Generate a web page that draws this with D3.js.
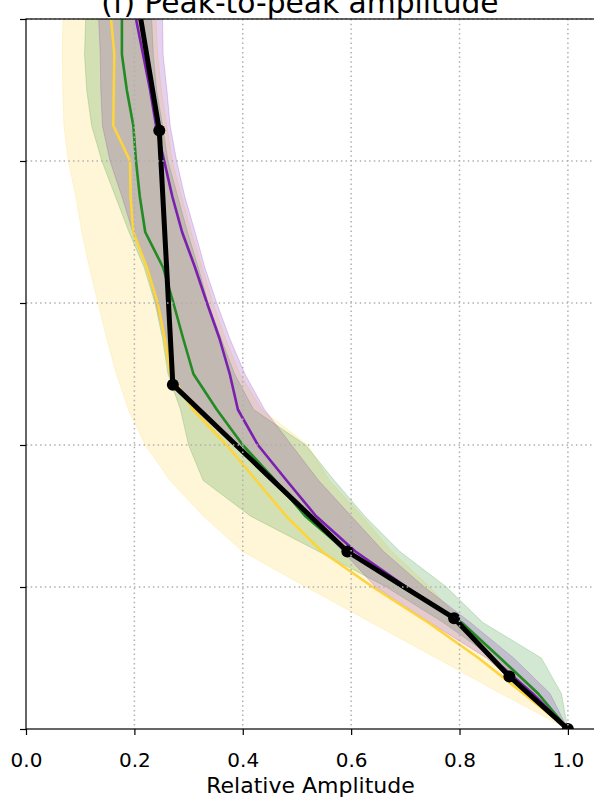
<!DOCTYPE html>
<html>
<head>
<meta charset="utf-8">
<script src="https://cdn.jsdelivr.net/npm/d3@7"></script>
<style>
  body { margin: 0; background: #fff; }
  svg { display: block; font-family: "DejaVu Sans", sans-serif; }
  .grid line { stroke: #b0b0b0; stroke-width: 1.5; stroke-dasharray: 1.5,3.2; }
</style>
</head>
<body>
<svg id="canvas" width="594" height="802"></svg>
<script>
// levels, bottom to top
const levels = [0, 5, 10, 15, 20, 25, 30, 35, 40, 45, 50, 55, 60, 65, 70, 75, 80, 85, 90, 95, 100];

const goldMean = [1.0, 0.918, 0.835, 0.742, 0.64, 0.546, 0.48, 0.425, 0.37, 0.308, 0.267, 0.256, 0.243, 0.223, 0.198, 0.193, 0.192, 0.161, 0.162, 0.163, 0.157];
const goldLo   = [1.0, 0.876, 0.757, 0.637, 0.517, 0.40, 0.327, 0.266, 0.22, 0.189, 0.167, 0.149, 0.133, 0.117, 0.103, 0.092, 0.078, 0.07, 0.068, 0.067, 0.068];
const goldHi   = [1.0, 0.945, 0.868, 0.805, 0.745, 0.675, 0.62, 0.56, 0.52, 0.435, 0.395, 0.368, 0.345, 0.325, 0.305, 0.287, 0.27, 0.26, 0.25, 0.243, 0.24];

const greenMean = [1.0, 0.945, 0.875, 0.804, 0.693, 0.592, 0.515, 0.46, 0.40, 0.352, 0.309, 0.29, 0.272, 0.253, 0.22, 0.21, 0.203, 0.198, 0.186, 0.177, 0.177];
const greenLo   = [1.0, 0.935, 0.862, 0.77, 0.665, 0.54, 0.414, 0.327, 0.30, 0.285, 0.262, 0.252, 0.238, 0.218, 0.19, 0.165, 0.14, 0.121, 0.112, 0.108, 0.11];
const greenHi   = [1.0, 0.988, 0.951, 0.843, 0.776, 0.69, 0.625, 0.569, 0.516, 0.42, 0.385, 0.36, 0.336, 0.318, 0.298, 0.28, 0.262, 0.252, 0.241, 0.235, 0.232];

const purpleMean = [1.0, 0.935, 0.86, 0.80, 0.702, 0.608, 0.535, 0.481, 0.428, 0.391, 0.376, 0.357, 0.334, 0.312, 0.288, 0.27, 0.255, 0.24, 0.229, 0.216, 0.203];
const purpleLo   = [1.0, 0.925, 0.85, 0.745, 0.645, 0.585, 0.52, 0.45, 0.385, 0.31, 0.266, 0.255, 0.24, 0.222, 0.197, 0.177, 0.155, 0.141, 0.138, 0.137, 0.134];
const purpleHi   = [1.0, 0.967, 0.90, 0.82, 0.735, 0.66, 0.60, 0.54, 0.49, 0.44, 0.404, 0.376, 0.352, 0.33, 0.312, 0.293, 0.278, 0.266, 0.26, 0.253, 0.252];

// observed points
const obsX = [1.0, 0.892, 0.79, 0.593, 0.271, 0.246, 0.19];
const obsY = [0, 7.4, 15.6, 25, 48.5, 84.3, 110];

const xTicks = [0.0, 0.2, 0.4, 0.6, 0.8, 1.0];
const yTicks = [0, 20, 40, 60, 80, 100];

const series = [
    { color: "#fdd43c", mean: goldMean, lo: goldLo, hi: goldHi },
    { color: "#228b22", mean: greenMean, lo: greenLo, hi: greenHi },
    { color: "#7b1fb0", mean: purpleMean, lo: purpleLo, hi: purpleHi }
];

const svg = d3.select("#canvas");
const padL = 26, padR = 595, padT = 19, padB = 729;

const x = d3.scaleLinear().domain([0, 1.05]).range([padL, padR]);
const y = d3.scaleLinear().domain([0, 100]).range([padB, padT]);

svg.append("defs").append("clipPath").attr("id", "plotclip")
    .append("rect")
    .attr("x", padL).attr("y", padT)
    .attr("width", padR - padL).attr("height", padB - padT);

const plot = svg.append("g").attr("clip-path", "url(#plotclip)");

// bands
const area = d3.area()
    .y(d => y(d.y))
    .x0(d => x(d.lo))
    .x1(d => x(d.hi));

series.forEach(s => {
    const rows = levels.map((lv, i) => ({ y: lv, lo: s.lo[i], hi: s.hi[i] }));
    plot.append("path")
        .datum(rows)
        .attr("d", area)
        .attr("fill", s.color)
        .attr("fill-opacity", 0.2)
        .attr("stroke", s.color)
        .attr("stroke-opacity", 0.2)
        .attr("stroke-width", 1);
});

// grid
const grid = svg.append("g").attr("class", "grid");
grid.selectAll(".gx").data(xTicks.filter(t => t > 0)).enter().append("line")
    .attr("x1", d => x(d)).attr("x2", d => x(d))
    .attr("y1", padT).attr("y2", padB);
grid.selectAll(".gy").data(yTicks.filter(t => t > 0)).enter().append("line")
    .attr("x1", padL).attr("x2", padR)
    .attr("y1", d => y(d)).attr("y2", d => y(d));

// mean lines
const line = d3.line().x(d => x(d.x)).y(d => y(d.y));

series.forEach(s => {
    const rows = levels.map((lv, i) => ({ y: lv, x: s.mean[i] }));
    plot.append("path")
        .datum(rows)
        .attr("d", line)
        .attr("fill", "none")
        .attr("stroke", s.color)
        .attr("stroke-width", 2.6)
        .attr("stroke-linejoin", "round");
});

const obs = obsX.map((v, i) => ({ x: v, y: obsY[i] }));
plot.append("path")
    .datum(obs)
    .attr("d", line)
    .attr("fill", "none")
    .attr("stroke", "#000")
    .attr("stroke-width", 5)
    .attr("stroke-linejoin", "round");

plot.selectAll(".dot").data(obs).enter().append("circle")
    .attr("cx", d => x(d.x)).attr("cy", d => y(d.y))
    .attr("r", 6).attr("fill", "#000");

// axes
const xAxis = svg.append("g")
    .attr("transform", `translate(0,${padB})`)
    .call(d3.axisBottom(x).tickValues(xTicks).tickFormat(d3.format(".1f")).tickSizeOuter(0).tickSize(6).tickPadding(18));
xAxis.select(".domain").remove();
xAxis.selectAll("line").attr("stroke", "#000").attr("stroke-width", 1.2);
xAxis.selectAll("text").attr("font-size", 20).attr("fill", "#000")
    .attr("font-family", "DejaVu Sans");

const yAxis = svg.append("g")
    .attr("transform", `translate(${padL},0)`)
    .call(d3.axisLeft(y).tickValues(yTicks).tickFormat("").tickSizeOuter(0).tickSize(6));
yAxis.select(".domain").remove();
yAxis.selectAll("line").attr("stroke", "#000").attr("stroke-width", 1.2);

// spines
svg.append("rect")
    .attr("x", padL).attr("y", padT)
    .attr("width", padR - padL).attr("height", padB - padT)
    .attr("fill", "none").attr("stroke", "#000").attr("stroke-width", 1.2);

// labels
svg.append("text")
    .attr("x", (padL + padR) / 2).attr("y", 793)
    .attr("text-anchor", "middle")
    .attr("font-size", 22)
    .text("Relative Amplitude");

svg.append("text")
    .attr("x", 300).attr("y", 13)
    .attr("text-anchor", "middle")
    .attr("font-size", 29.7)
    .text("(f) Peak-to-peak amplitude");
</script>
</body>
</html>
